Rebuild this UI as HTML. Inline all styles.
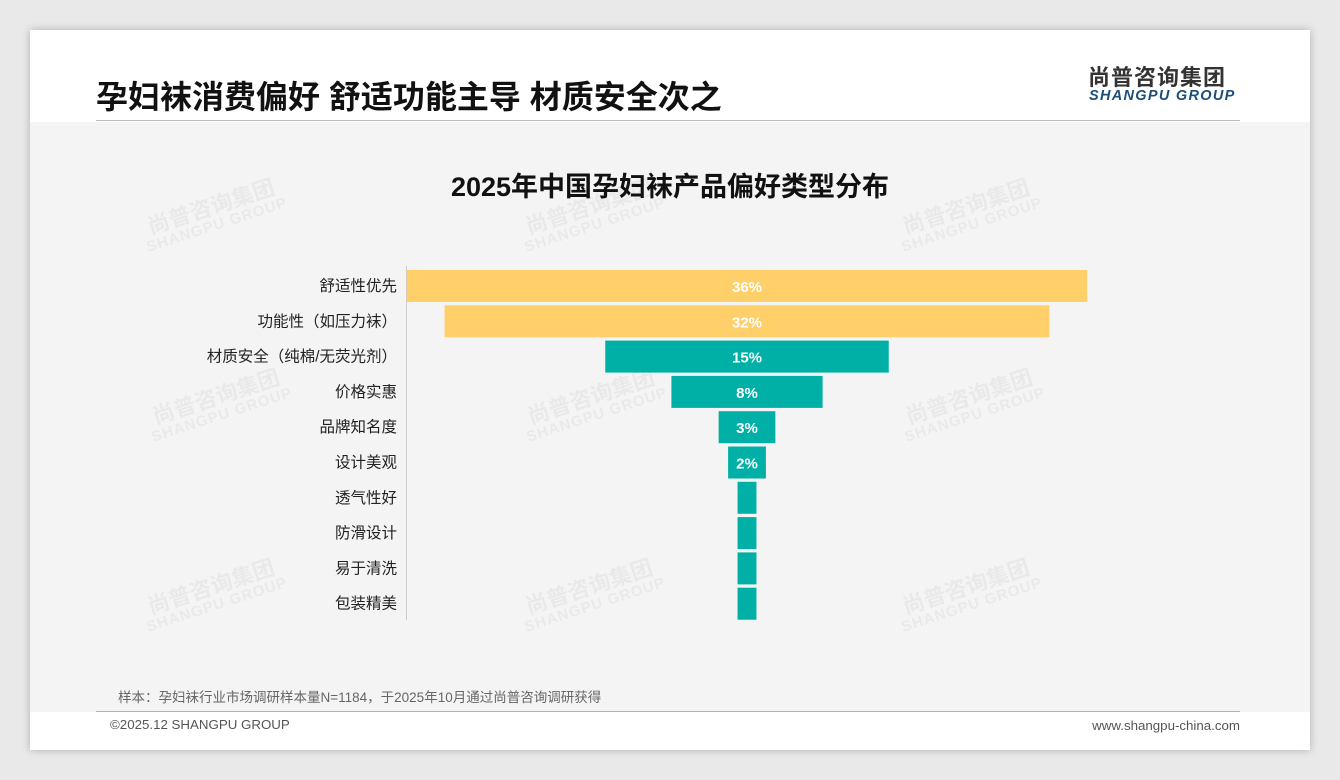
<!DOCTYPE html>
<html><head><meta charset="utf-8">
<style>
*{margin:0;padding:0;box-sizing:border-box}
body{width:1340px;height:780px;background:#e9e9e9;font-family:"Liberation Sans","Noto Sans CJK SC",sans-serif;position:relative;overflow:hidden}
#card{position:absolute;left:30px;top:30px;width:1280px;height:720px;background:#fff;box-shadow:0 0 8px rgba(0,0,0,.25)}
#gray{position:absolute;left:0;top:92px;width:1280px;height:590px;background:#f4f4f4}
.abs{position:absolute;line-height:1}
.wm{position:absolute;color:rgba(0,0,0,.045);font-weight:bold;transform:rotate(-18deg);line-height:1.05;text-align:center}
</style></head><body>
<div id="card">
<div id="gray"></div>
<div class="abs" style="left:66px;top:51px;font-size:32px;font-weight:bold;color:#111">孕妇袜消费偏好 舒适功能主导 材质安全次之</div>
<div class="abs" style="left:1058px;top:37px;font-size:22px;font-weight:bold;color:#333;letter-spacing:1px">尚普咨询集团</div>
<div class="abs" style="left:1059px;top:59px;font-size:14.5px;font-weight:bold;font-style:italic;color:#1d4e7a;letter-spacing:1.3px">SHANGPU GROUP</div>
<div class="abs" style="left:66px;top:90px;width:1144px;height:1px;background:#bbb"></div>
<div class="abs" style="left:0;width:1280px;top:144px;text-align:center;font-size:27px;font-weight:bold;color:#111">2025年中国孕妇袜产品偏好类型分布</div>
<div class="abs" style="left:88px;top:661px;font-size:13.5px;color:#666">样本：孕妇袜行业市场调研样本量N=1184，于2025年10月通过尚普咨询调研获得</div>
<div class="abs" style="left:66px;top:681px;width:1144px;height:1px;background:#9bb7d0"></div>
<div class="abs" style="left:80px;top:688px;font-size:13.3px;color:#555">©2025.12 SHANGPU GROUP</div>
<div class="abs" style="right:70px;top:689px;font-size:13.3px;color:#555">www.shangpu-china.com</div>
</div>
<div id="wms"></div>
<svg id="chart" class="abs" style="left:0;top:0" width="1340" height="780"></svg>
<script>
const categories=["舒适性优先","功能性（如压力袜）","材质安全（纯棉/无荧光剂）","价格实惠","品牌知名度","设计美观","透气性好","防滑设计","易于清洗","包装精美"];
const values=[36,32,15,8,3,2,1,1,1,1];
const labels=["36%","32%","15%","8%","3%","2%","","","",""];
const highlight=[true,true,false,false,false,false,false,false,false,false];
const NS="http://www.w3.org/2000/svg";
const svg=document.getElementById('chart');
const cx=747, pxPer=18.9, y0=270, pitch=35.3, bh=32;
const xs=v=>v*pxPer;
const ys=i=>y0+i*pitch;
const axis=document.createElementNS(NS,'line');
axis.setAttribute('x1',406.5);axis.setAttribute('x2',406.5);axis.setAttribute('y1',266);axis.setAttribute('y2',620);
axis.setAttribute('stroke','#ccc');


svg.appendChild(axis);
categories.forEach((c,i)=>{
 const w=xs(values[i]);
 const r=document.createElementNS(NS,'rect');
 r.setAttribute('x',cx-w/2);r.setAttribute('y',ys(i));r.setAttribute('width',w);r.setAttribute('height',bh);
 r.setAttribute('fill',highlight[i]?'#FFCF6A':'#00B0A6');
 
 
 svg.appendChild(r);
 const t=document.createElementNS(NS,'text');
 t.setAttribute('x',397);t.setAttribute('y',ys(i)+bh/2+5);t.setAttribute('text-anchor','end');
 t.setAttribute('font-size','15.5');t.setAttribute('fill','#222');
 t.setAttribute('font-family','"Liberation Sans","Noto Sans CJK SC",sans-serif');
 t.textContent=c;
 
 
 svg.appendChild(t);
 if(labels[i]){
  const v=document.createElementNS(NS,'text');
  v.setAttribute('x',cx);v.setAttribute('y',ys(i)+bh/2+6);v.setAttribute('text-anchor','middle');
  v.setAttribute('font-size','15');v.setAttribute('font-weight','bold');v.setAttribute('fill','#fff');
  v.setAttribute('font-family','"Liberation Sans",sans-serif');
  v.textContent=labels[i];
  
  
  svg.appendChild(v);
 }
});
const wms=document.getElementById('wms');
[[140,195],[518,195],[895,195],[145,385],[520,385],[898,385],[140,575],[518,575],[895,575]].forEach(p=>{
 const d=document.createElement('div');
 d.className='wm';d.style.left=p[0]+'px';d.style.top=p[1]+'px';
 d.innerHTML='<div style="font-size:22px">尚普咨询集团</div><div style="font-size:15px;letter-spacing:1px">SHANGPU GROUP</div>';
 
 
 wms.appendChild(d);
});
</script>
</body></html>
